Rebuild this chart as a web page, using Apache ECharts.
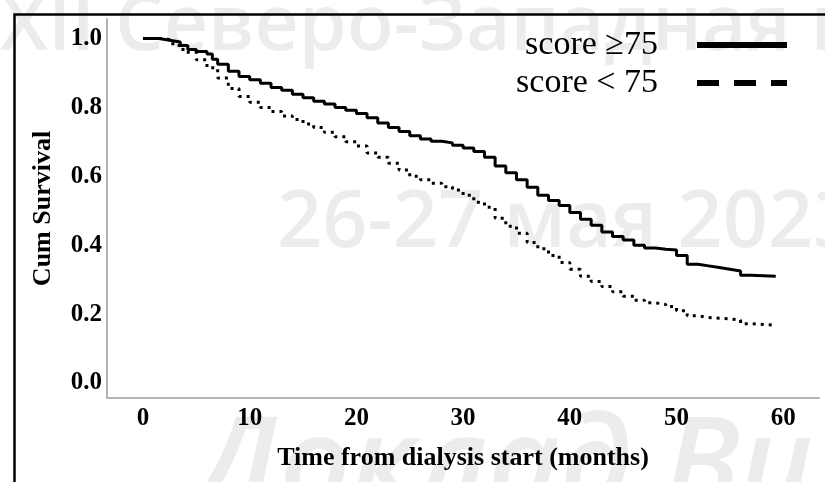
<!DOCTYPE html>
<html>
<head>
<meta charset="utf-8">
<script src="https://cdn.jsdelivr.net/npm/echarts@6/dist/echarts.min.js"></script>
<style>
html,body{margin:0;padding:0;background:#fff;}
#chart{width:825px;height:482px;}
</style>
</head>
<body>
<div id="chart"></div>
<script>
// ---- data ----
const seriesNames = ['score ≥75', 'score < 75'];
const monthsHigh = [0, 1, 1.5, 2.5, 3.5, 4.2, 5, 6, 6.5, 7, 8, 9, 10, 11, 12, 13, 14, 15, 16, 17, 18, 19, 20, 21, 22, 23, 24, 25, 26, 27, 28, 29, 30, 31, 32, 33, 34, 35, 36, 37, 38, 39, 40, 41, 42, 43, 44, 45, 46, 47, 48, 49, 50, 51, 52, 53, 54, 55, 56, 57, 59.3];
const survHigh = [1.0, 1.0, 0.995, 0.99, 0.98, 0.968, 0.962, 0.955, 0.94, 0.925, 0.905, 0.89, 0.88, 0.87, 0.858, 0.85, 0.838, 0.828, 0.818, 0.81, 0.8, 0.792, 0.782, 0.77, 0.755, 0.742, 0.73, 0.718, 0.708, 0.702, 0.697, 0.69, 0.682, 0.672, 0.655, 0.63, 0.61, 0.59, 0.568, 0.545, 0.53, 0.515, 0.495, 0.475, 0.458, 0.438, 0.425, 0.415, 0.4, 0.392, 0.388, 0.386, 0.37, 0.345, 0.34, 0.335, 0.33, 0.325, 0.313, 0.31, 0.308];
const monthsLow = [0, 2, 2.8, 3.75, 5, 6, 7, 8, 9, 10, 11, 12, 13, 14, 15, 16, 17, 18, 19, 20, 21, 22, 23, 24, 25, 26, 27, 28, 29, 30, 31, 32, 33, 34, 35, 36, 37, 38, 39, 40, 41, 42, 43, 44, 45, 46, 47, 48, 49, 50, 51, 52, 53, 54, 55, 56, 57, 59.3];
const survLow = [1.0, 0.995, 0.98, 0.96, 0.938, 0.915, 0.885, 0.855, 0.832, 0.815, 0.8, 0.788, 0.775, 0.765, 0.752, 0.742, 0.728, 0.715, 0.7, 0.688, 0.668, 0.655, 0.638, 0.618, 0.6, 0.59, 0.58, 0.57, 0.56, 0.545, 0.525, 0.51, 0.478, 0.455, 0.435, 0.408, 0.39, 0.37, 0.35, 0.33, 0.31, 0.295, 0.28, 0.265, 0.252, 0.24, 0.233, 0.228, 0.222, 0.21, 0.195, 0.19, 0.188, 0.186, 0.183, 0.172, 0.168, 0.168];
const xTicks = [0, 10, 20, 30, 40, 50, 60];
const yTicks = [0, 0.2, 0.4, 0.6, 0.8, 1.0];
const xTitle = 'Time from dialysis start (months)';
const yTitle = 'Cum Survival';
const watermarks = ['XII Северо-Западная конференция', '26-27 мая 2023', 'Доклад Ви'];

const pair = (xs, ys) => xs.map((x, i) => [x, ys[i]]);
const serif = '"Liberation Serif", "Times New Roman", serif';
const wmColor = 'rgba(0,0,0,0.075)';

const chart = echarts.init(document.getElementById('chart'));
chart.setOption({
  animation: false,
  backgroundColor: '#fff',
  graphic: [
    { type: 'text', left: 0, top: -10, z: -10, silent: true,
      style: { text: watermarks[0], fill: wmColor, font: '600 77px "Open Sans", sans-serif' } },
    { type: 'text', left: 277, top: 185, z: -10, silent: true,
      style: { text: watermarks[1], fill: wmColor, font: '600 79px "Open Sans", sans-serif' } },
    { type: 'text', left: 196, top: 408, z: -10, silent: true,
      style: { text: watermarks[2], fill: wmColor, font: 'italic 600 124px "Open Sans", sans-serif' } },
    { type: 'rect', left: 12, top: 12, z: 1, silent: true,
      shape: { x: 0, y: 0, width: 900, height: 600 },
      style: { fill: 'none', stroke: '#000', lineWidth: 2.5 } }
  ],
  grid: { left: 107, right: 6, top: 19, bottom: 84, containLabel: false },
  legend: {
    orient: 'vertical', right: 33, top: 23, align: 'right',
    itemWidth: 90, itemHeight: 6, itemGap: 4,
    itemStyle: { borderWidth: 0 },
    formatter: n => n + '    ',
    textStyle: { fontFamily: serif, fontSize: 34, color: '#000' },
    data: [
      { name: seriesNames[0], icon: 'rect' },
      { name: seriesNames[1], icon: 'path://M0,0h22v6h-22z M37,0h22v6h-22z M74,0h16v6h-16z' }
    ]
  },
  xAxis: {
    type: 'value', min: -3.37, max: 63.35,
    name: xTitle, nameLocation: 'middle', nameGap: 47,
    nameTextStyle: { fontFamily: serif, fontWeight: 'bold', fontSize: 26, color: '#000' },
    axisLine: { show: true, onZero: false, lineStyle: { color: '#b4b4b4', width: 2 } },
    axisTick: { show: false },
    splitLine: { show: false },
    axisLabel: { customValues: xTicks, margin: 8, fontFamily: serif, fontWeight: 'bold', fontSize: 25, color: '#000' }
  },
  yAxis: {
    type: 'value', min: -0.0435, max: 1.0566,
    name: yTitle, nameLocation: 'middle', nameGap: 51, nameRotate: 90,
    nameTextStyle: { fontFamily: serif, fontWeight: 'bold', fontSize: 26, color: '#000' },
    axisLine: { show: true, onZero: false, lineStyle: { color: '#b4b4b4', width: 2 } },
    axisTick: { show: false },
    splitLine: { show: false },
    axisLabel: { customValues: yTicks, margin: 5, formatter: v => v.toFixed(1), fontFamily: serif, fontWeight: 'bold', fontSize: 25, color: '#000' }
  },
  series: [
    { name: seriesNames[0], type: 'line', step: 'end', symbol: 'none',
      data: pair(monthsHigh, survHigh),
      itemStyle: { color: '#000' },
      lineStyle: { color: '#000', width: 3 } },
    { name: seriesNames[1], type: 'line', step: 'end', symbol: 'none',
      data: pair(monthsLow, survLow),
      itemStyle: { color: '#000' },
      lineStyle: { color: '#000', width: 3, type: [3, 5] } }
  ]
});
</script>
</body>
</html>
